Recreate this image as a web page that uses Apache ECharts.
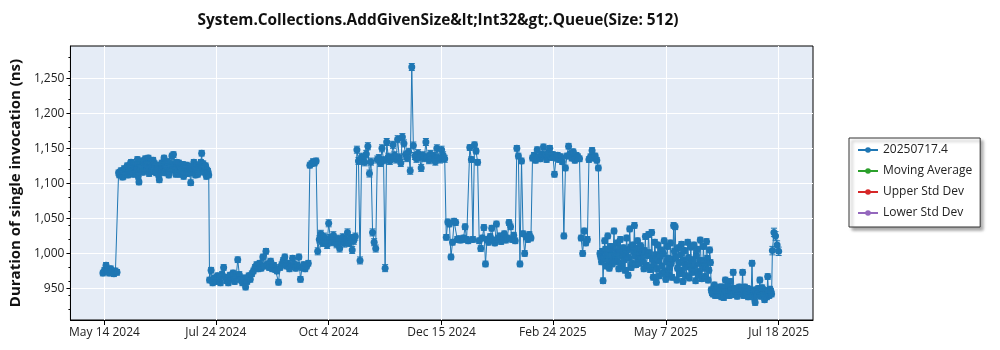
<!DOCTYPE html>
<html>
<head>
<meta charset="utf-8">
<title>AddGivenSize Queue</title>
<script src="https://cdn.jsdelivr.net/npm/echarts@6/dist/echarts.min.js"></script>
<style>
  html, body { margin: 0; background: #fff; }
  #chart { width: 1000px; height: 350px; }
</style>
</head>
<body>
<div id="chart"></div>
<script>
// tick labels on the x axis and y axis
const tickDates = ['2024-05-14', '2024-07-24', '2024-10-04', '2024-12-15', '2025-02-24', '2025-05-07', '2025-07-18'];
const yTicks = [950, 1000, 1050, 1100, 1150, 1200, 1250];

const seriesNames = ['20250717.4', 'Moving Average', 'Upper Std Dev', 'Lower Std Dev'];
const seriesColors = ['#1f77b4', '#2ca02c', '#d62728', '#9467bd'];

// morning runs, mean duration in ns (one value per day from the start date)
const runsStart = ['2024-05-13', '2024-05-23', '2024-07-20', '2024-09-22', '2024-09-27', '2024-10-22',
  '2024-12-18', '2025-01-08', '2025-02-11', '2025-03-26', '2025-06-05', '2025-07-14'];

const runsMay24 = [972, 976, 983, 975, 972, 978, 974, 971, 975, 973];
const runsJun24 = [1115, 1116, 1113, 1110, 1118, 1120, 1112, 1124, 1130, 1118, 1121, 1115, 1134, 1102, 1120,
  1125, 1131, 1135, 1126, 1136, 1122, 1118, 1133, 1128, 1115, 1121, 1105, 1119, 1126, 1136, 1124, 1117, 1112,
  1120, 1139, 1141, 1125, 1130, 1118, 1113, 1122, 1127, 1116, 1120, 1114, 1124, 1101, 1119, 1130, 1112, 1125,
  1118, 1121, 1143, 1128, 1123, 1110, 1117];
const runsAug24 = [962, 976, 958, 965, 960, 968, 963, 958, 970, 980, 966, 961, 958, 969, 964, 972, 960, 967,
  991, 970, 962, 958, 965, 952, 960, 968, 963, 971, 975, 980, 984, 978, 986, 979, 995, 982, 1003, 985, 980,
  989, 978, 983, 977, 975, 959, 980, 984, 990, 995, 982, 986, 978, 981, 993, 985, 979, 983, 995, 963, 980,
  984, 978, 982, 986];
const runsSep24 = [1126, 1128, 1131, 1129, 1132];
const runsOct24 = [1003, 1020, 1028, 1015, 1024, 1018, 1012, 1043, 1022, 1016, 1026, 1019, 1013, 1021, 1007,
  1017, 1023, 1014, 1020, 1030, 1015, 1022, 1005, 1018, 1024];
const runsNov24 = [1148, 1132, 990, 1138, 1135, 1130, 1142, 1153, 1114, 1131, 1030, 1016, 1007, 1134, 1136,
  1129, 1150, 1133, 979, 1159, 1138, 1132, 1136, 1155, 1140, 1134, 1163, 1137, 1129, 1166, 1157, 1141, 1136,
  1145, 1118, 1266, 1154, 1139, 1135, 1143, 1137, 1122, 1140, 1136, 1159, 1138, 1133, 1142, 1136, 1139, 1131,
  1150, 1137, 1134, 1148, 1140, 1135];
const runsDec24 = [1023, 1045, 1042, 995, 1016, 1046, 1044, 1020, 1021, 1019, 1020, 1022, 1038, 1020, 1018,
  1151, 1134, 1020, 1155, 1146, 1130];
const runsJan25 = [1018, 1007, 1022, 1037, 985, 1020, 1016, 1024, 1036, 1019, 1015, 1042, 1021, 1025, 1017,
  1023, 1028, 1019, 1022, 1044, 1038, 1020, 1026, 1018, 1150, 1139, 985, 1132, 1028, 1000, 1024, 1020, 1027,
  1022];
const runsFeb25 = [1136, 1140, 1133, 1148, 1138, 1135, 1142, 1152, 1139, 1134, 1144, 1150, 1137, 1141, 1113,
  1136, 1140, 1134, 1138, 1131, 1025, 1122, 1139, 1153, 1142, 1136, 1145, 1133, 1140, 1138, 1135, 1022, 1000,
  1032, 1015, 1020, 1134, 1138, 1147, 1136, 1139, 1133, 1122];
const runsApr25 = [1000, 988, 961, 1018, 982, 1025,
  979, 1010, 985, 1032, 990, 1015, 978, 1020, 983, 1008,
  976, 1022, 969, 1035, 980, 1012, 1040, 984, 1018, 986,
  1011, 1002, 978, 1024, 981, 1027, 977, 1030, 966, 1016,
  959, 1012, 968, 1005, 972, 1018, 963, 1010, 970, 1015,
  966, 1040, 1038, 962, 1008, 971, 1013, 960, 1004, 968,
  1016, 965, 1009, 973, 1012, 961, 1006, 969, 1019, 964, 1010,
  967, 1017, 962, 1005];
const runsJun25 = [948, 942, 955, 944, 950, 940, 946, 952, 937, 962,
  945, 948, 960, 941, 973, 950, 944, 947, 952, 943,
  973, 946, 941, 950, 944, 939, 986, 947, 930, 945,
  950, 962, 942, 948, 934, 944, 967, 940, 946];
const runsJul25 = [1004, 1030, 1025, 1012, 1003];

// evening runs (same days, twelve hours later)
const lateRunsStart = ['2024-05-23', '2025-03-26', '2025-06-05'];
const lateRunsJun24 = [1112, 1118, 1109, 1121, 1114, 1125, 1117, 1128, 1120, 1113, 1127, 1119, 1110, 1124,
  1132, 1116, 1122, 1128, 1119, 1114, 1130, 1125, 1117, 1121, 1126, 1112, 1118, 1129, 1123, 1115, 1120, 1131,
  1118, 1124, 1127, 1119, 1113, 1122, 1129, 1117, 1124, 1110, 1121, 1126, 1118, 1123, 1115, 1120, 1127, 1119,
  1113, 1124, 1130, 1122, 1116, 1125, 1119, 1112];
const lateRunsApr25 = [995, 1003, 992, 1006, 998, 990,
  1004, 996, 1008, 993, 1001, 988, 1006, 997, 1002, 991,
  999, 1005, 994, 1009, 986, 1003, 996, 1007, 992, 1000,
  994, 988, 1004, 983, 997, 1001, 980, 992, 985, 998,
  978, 990, 996, 982, 1000, 975, 988, 993, 980, 986,
  992, 1003, 995, 979, 987, 998, 976, 990, 984, 981,
  994, 985, 977, 991, 983, 997, 974, 986, 990, 979, 988,
  982, 993, 976, 987];
const lateRunsJun25 = [944, 950, 940, 948, 943, 952, 938, 945, 949, 941,
  953, 940, 946, 950, 942, 948, 939, 951, 944, 947,
  940, 952, 945, 938, 949, 946, 942, 936, 948, 941,
  944, 939, 951, 943, 947, 938, 945, 949, 942];

// error half-width (ns) of the runs in each group
const runsErr = [4, 4, 4, 4, 5, 5, 4, 4, 4, 4, 4, 6];
const lateRunsErr = [4, 4, 4];

const runGroups = [runsMay24, runsJun24, runsAug24, runsSep24, runsOct24, runsNov24,
  runsDec24, runsJan25, runsFeb25, runsApr25, runsJun25, runsJul25];
const lateRunGroups = [lateRunsJun24, lateRunsApr25, lateRunsJun25];

const DAY = 86400000;
const MONTHS = ['Jan', 'Feb', 'Mar', 'Apr', 'May', 'Jun', 'Jul', 'Aug', 'Sep', 'Oct', 'Nov', 'Dec'];

function utc(s) {
  const p = s.split('-').map(Number);
  return Date.UTC(p[0], p[1] - 1, p[2]);
}

// [time, mean, low, high]
const runs = [];
runGroups.forEach((vals, g) => {
  const t0 = utc(runsStart[g]);
  vals.forEach((v, i) => runs.push([t0 + i * DAY, v, v - runsErr[g], v + runsErr[g]]));
});
lateRunGroups.forEach((vals, g) => {
  const t0 = utc(lateRunsStart[g]) + DAY / 2;
  vals.forEach((v, i) => runs.push([t0 + i * DAY, v, v - lateRunsErr[g], v + lateRunsErr[g]]));
});
runs.sort((a, b) => a[0] - b[0]);

const points = runs.map(r => [r[0], r[1]]);
const errBars = runs.map(r => [r[0], r[2], r[3]]);

const tickValues = tickDates.map(utc);
// axis runs a bit past the first and last tick
const xMin = tickValues[0] - 21.7 * DAY;
const xMax = tickValues[tickValues.length - 1] + 21.9 * DAY;

const font = 'Open Sans';

const chart = echarts.init(document.getElementById('chart'));

chart.setOption({
  animation: false,
  textStyle: { fontFamily: font },
  title: {
    text: 'System.Collections.AddGivenSize&lt;Int32&gt;.Queue(Size: 512)',
    left: 433,
    textAlign: 'center',
    top: 8,
    textStyle: { fontFamily: font, fontSize: 15.4, fontWeight: 'bold', color: '#111' }
  },
  legend: {
    orient: 'vertical',
    left: 849,
    top: 138,
    data: seriesNames,
    padding: [6, 8, 8, 8],
    itemGap: 9,
    itemWidth: 20,
    itemHeight: 7,
    backgroundColor: '#fff',
    borderColor: '#333',
    borderWidth: 1,
    shadowColor: 'rgba(0,0,0,0.35)',
    shadowBlur: 3,
    shadowOffsetX: 3,
    shadowOffsetY: 3,
    textStyle: { fontFamily: font, fontSize: 12, color: '#222' }
  },
  grid: {
    left: 63, right: 187, top: 46, bottom: 30,
    show: true,
    backgroundColor: '#e5ecf6',
    borderColor: '#000',
    borderWidth: 1
  },
  xAxis: {
    type: 'value',
    min: xMin,
    max: xMax,
    axisLine: { lineStyle: { color: '#000' } },
    axisTick: { show: true, customValues: tickValues, length: 5, lineStyle: { color: '#000' } },
    axisLabel: {
      customValues: tickValues,
      color: '#222',
      fontSize: 12,
      margin: 7,
      formatter: (v) => {
        const d = new Date(v);
        return MONTHS[d.getUTCMonth()] + ' ' + d.getUTCDate() + ' ' + d.getUTCFullYear();
      }
    },
    splitLine: { show: true, lineStyle: { color: '#fff', width: 1 } }
  },
  yAxis: {
    type: 'value',
    min: 905,
    max: 1296,
    name: 'Duration of single invocation (ns)',
    nameLocation: 'middle',
    nameGap: 46,
    nameTextStyle: { fontFamily: font, fontSize: 15, fontWeight: 'bold', color: '#111' },
    axisLine: { show: true, lineStyle: { color: '#000' } },
    axisTick: { show: true, customValues: yTicks, length: 4, lineStyle: { color: '#000' } },
    minorTick: { show: true, splitNumber: 5, length: 2, lineStyle: { color: '#000' } },
    axisLabel: {
      customValues: yTicks,
      color: '#222',
      fontSize: 12,
      margin: 6,
      formatter: (v) => v.toLocaleString('en-US')
    },
    splitLine: { show: true, lineStyle: { color: '#fff', width: 1 } }
  },
  series: [
    {
      name: seriesNames[0],
      type: 'line',
      data: points,
      symbol: 'circle',
      symbolSize: 7,
      itemStyle: { color: seriesColors[0] },
      lineStyle: { width: 1, color: seriesColors[0] },
      z: 3
    },
    {
      // error bars with caps
      type: 'custom',
      silent: true,
      data: errBars,
      encode: { x: 0, y: [1, 2] },
      z: 4,
      renderItem: (params, api) => {
        const lo = api.coord([api.value(0), api.value(1)]);
        const hi = api.coord([api.value(0), api.value(2)]);
        const w = 3;
        const style = { stroke: seriesColors[0], lineWidth: 1 };
        return {
          type: 'group',
          children: [
            { type: 'line', shape: { x1: lo[0], y1: lo[1], x2: hi[0], y2: hi[1] }, style },
            { type: 'line', shape: { x1: lo[0] - w, y1: lo[1], x2: lo[0] + w, y2: lo[1] }, style },
            { type: 'line', shape: { x1: hi[0] - w, y1: hi[1], x2: hi[0] + w, y2: hi[1] }, style }
          ]
        };
      }
    },
    { name: seriesNames[1], type: 'line', data: [], symbol: 'circle', itemStyle: { color: seriesColors[1] } },
    { name: seriesNames[2], type: 'line', data: [], symbol: 'circle', itemStyle: { color: seriesColors[2] } },
    { name: seriesNames[3], type: 'line', data: [], symbol: 'circle', itemStyle: { color: seriesColors[3] } }
  ]
});
</script>
</body>
</html>
